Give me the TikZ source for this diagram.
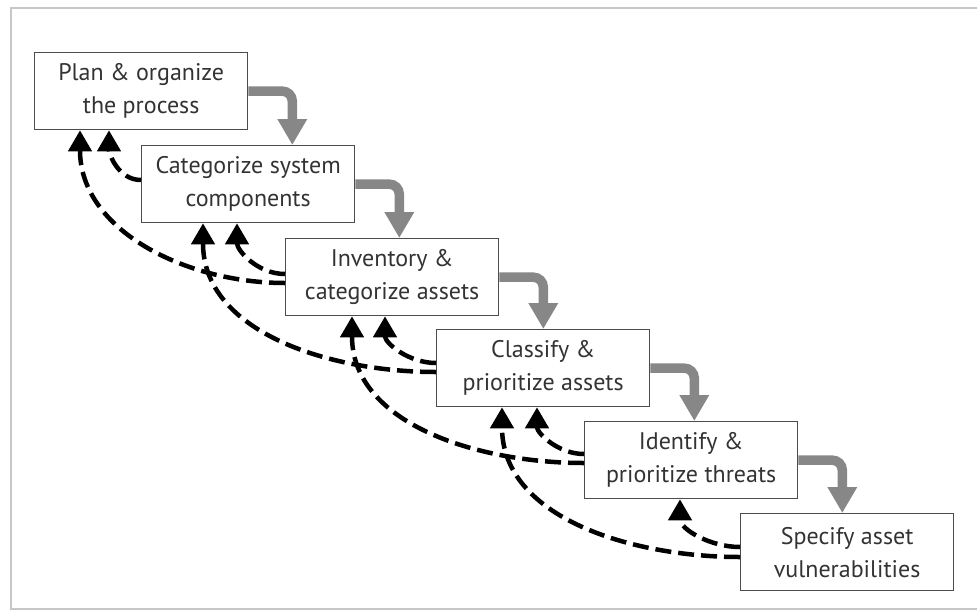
\documentclass[tikz,border=0pt]{standalone}
\usepackage{fontspec}
\setmainfont{PT Sans}
\usetikzlibrary{arrows.meta,calc}
\begin{document}
\begin{tikzpicture}[x=1pt,y=1pt,
  stepbox/.style={draw=black!70,line width=1.3pt,minimum width=213pt,minimum height=77pt,
    anchor=north west,align=center,font=\fontsize{24}{33}\selectfont,text=black!80,inner sep=0pt},
  flow/.style={draw=black!47,line width=9.5pt,rounded corners=10pt,
    -{Triangle[width=28pt,length=26pt]}},
  back/.style={draw=black,line width=4.5pt,dash pattern=on 16pt off 7pt,
    -{Triangle[width=23pt,length=21pt]}}
]
\useasboundingbox (0,0) rectangle (977,-611);
\draw[black!22,line width=2pt] (980,-8) -- (11,-8) -- (11,-609) -- (980,-609);

\node[stepbox] (b1) at (34,-52) {Plan \& organize\\the process};
\node[stepbox] (b2) at (141,-145) {Categorize system\\components};
\node[stepbox] (b3) at (285,-238) {Inventory \&\\categorize assets};
\node[stepbox] (b4) at (436,-329) {Classify \&\\prioritize assets};
\node[stepbox] (b5) at (584,-421) {Identify \&\\prioritize threats};
\node[stepbox] (b6) at (740,-513) {Specify asset\\vulnerabilities};

\foreach \a/\b in {b1/b2,b2/b3,b3/b4,b4/b5,b5/b6}{
  \coordinate (t-\a) at ($(\a.east)+(44,0)$);
  \draw[flow] (\a.east) -| (t-\a |- \b.north);
}

% short feedback arrows
\draw[back] ([yshift=-35]b2.north west) to[out=180,in=-90] ([xshift=75]b1.south west);
\draw[back] ([yshift=-36]b3.north west) to[out=180,in=-90] ([xshift=96]b2.south west);
\draw[back] ([yshift=-34]b4.north west) to[out=180,in=-90] ([xshift=100]b3.south west);
\draw[back] ([yshift=-33]b5.north west) to[out=180,in=-90] ([xshift=101]b4.south west);
\draw[back] ([yshift=-34]b6.north west) to[out=180,in=-90] ([xshift=96]b5.south west);
% long feedback arrows
\draw[back] ([yshift=-45]b3.north west) to[out=180,in=-90] ([xshift=46]b1.south west);
\draw[back] ([yshift=-43]b4.north west) to[out=180,in=-90] ([xshift=62]b2.south west);
\draw[back] ([yshift=-42]b5.north west) to[out=180,in=-90] ([xshift=67]b3.south west);
\draw[back] ([yshift=-44]b6.north west) to[out=180,in=-90] ([xshift=66]b4.south west);
\end{tikzpicture}
\end{document}
